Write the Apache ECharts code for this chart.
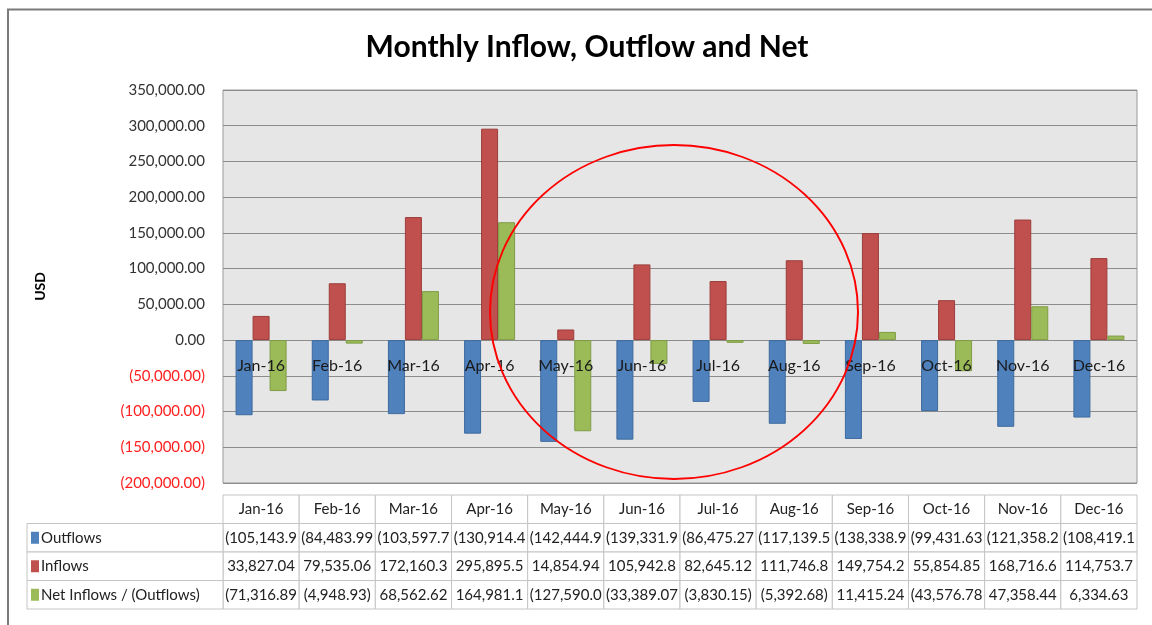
<!DOCTYPE html>
<html>
<head>
<meta charset="utf-8">
<title>Monthly Inflow, Outflow and Net</title>
<script src="https://cdn.jsdelivr.net/npm/echarts@6/dist/echarts.min.js"></script>
<style>
  html, body { margin: 0; padding: 0; background: #fff; }
  #chartBox { width: 1152px; height: 625px; }
</style>
</head>
<body>
<div id="chartBox"></div>
<script>
  // months shown on the axis and in the table header
  var months = ['Jan-16', 'Feb-16', 'Mar-16', 'Apr-16', 'May-16', 'Jun-16',
    'Jul-16', 'Aug-16', 'Sep-16', 'Oct-16', 'Nov-16', 'Dec-16'];
  var seriesNames = ['Outflows', 'Inflows', 'Net Inflows / (Outflows)'];
  var outflows = [-105143.93, -84483.99, -103597.73, -130914.41, -142444.98, -139331.95,
    -86475.27, -117139.51, -138338.98, -99431.63, -121358.20, -108419.12];
  var inflows = [33827.04, 79535.06, 172160.35, 295895.52, 14854.94, 105942.88,
    82645.12, 111746.83, 149754.22, 55854.85, 168716.64, 114753.75];
  var netFlows = [-71316.89, -4948.93, 68562.62, 164981.11, -127590.04, -33389.07,
    -3830.15, -5392.68, 11415.24, -43576.78, 47358.44, 6334.63];
  var yTicks = { min: -200000, max: 350000, step: 50000 };

  var colors = ['#4F81BD', '#C0504D', '#9BBB59'];
  var borders = ['#3d6a9e', '#9c3d3a', '#7f9c45'];
  var FONT = 'Lato, "Open Sans", sans-serif';

  // 105143.9 -> "(105,143.90)"
  function fmt(v) {
    var s = Math.abs(v).toFixed(2).replace(/\B(?=(\d{3})+(?!\d))/g, ',');
    return v < 0 ? '(' + s + ')' : s;
  }

  var tableRows = [months, outflows, inflows, netFlows];
  var cells = [];
  for (var r = 0; r < tableRows.length; r++) {
    for (var c = 0; c < months.length; c++) cells.push([c, r]);
  }

  function renderCell(params, api) {
    var c = api.value(0), r = api.value(1);
    var pt = api.coord([c, r]);
    var sz = api.size([1, 1]);
    var x0 = pt[0] - sz[0] / 2, y0 = pt[1] - sz[1] / 2;
    var txt = r === 0 ? months[c] : fmt(tableRows[r][c]);
    var kids = [{
      type: 'rect',
      shape: { x: x0, y: y0, width: sz[0], height: sz[1] },
      style: { fill: '#fff', stroke: '#c4c4c4', lineWidth: 1 }
    }, {
      type: 'text',
      style: {
        text: txt, x: pt[0], y: pt[1], align: 'center', verticalAlign: 'middle',
        width: sz[0] - 1, overflow: 'truncate', ellipsis: '',
        fill: '#222', font: '15px ' + FONT
      }
    }];
    // legend cell left of the first column
    if (c === 0 && r > 0) {
      var lx = 27;
      kids.push({
        type: 'rect',
        shape: { x: lx, y: y0, width: x0 - lx, height: sz[1] },
        style: { fill: '#fff', stroke: '#c4c4c4', lineWidth: 1 }
      }, {
        type: 'rect',
        shape: { x: lx + 4, y: pt[1] - 6, width: 8, height: 12 },
        style: { fill: colors[r - 1] }
      }, {
        type: 'text',
        style: {
          text: seriesNames[r - 1], x: lx + 14, y: pt[1], align: 'left',
          verticalAlign: 'middle', fill: '#222', font: '15px ' + FONT
        }
      });
    }
    return { type: 'group', children: kids };
  }

  var barSeries = [outflows, inflows, netFlows].map(function (d, i) {
    return {
      name: seriesNames[i],
      type: 'bar',
      barWidth: 17,
      barGap: '0%',
      itemStyle: { color: colors[i], borderColor: borders[i], borderWidth: 1 },
      data: d
    };
  });

  var myChart = echarts.init(document.getElementById('chartBox'));
  myChart.setOption({
    animation: false,
    backgroundColor: '#fff',
    title: {
      text: 'Monthly Inflow, Outflow and Net',
      left: 582, top: 27, textAlign: 'center',
      textStyle: { fontFamily: FONT, fontSize: 30, fontWeight: 'bold', color: '#000' }
    },
    grid: [{
      left: 223, right: 15, top: 90, bottom: 142,
      show: true, backgroundColor: '#E6E6E6', borderColor: '#9a9a9a', borderWidth: 1
    }, {
      left: 223, right: 15, top: 495, height: 114
    }],
    xAxis: [{
      type: 'category',
      data: months,
      z: 10,
      // labels sit just under the zero line, as in the spreadsheet chart
      offset: -143,
      axisLine: { show: false },
      axisTick: { show: false },
      axisLabel: { fontFamily: FONT, fontSize: 16, color: '#1a1a1a', margin: 18 }
    }, {
      type: 'category', gridIndex: 1, data: months, show: false
    }],
    yAxis: [{
      type: 'value',
      min: yTicks.min, max: yTicks.max, interval: yTicks.step,
      name: 'USD',
      nameLocation: 'middle',
      nameGap: 176,
      nameTextStyle: { fontFamily: FONT, fontSize: 14, fontWeight: 'bold', color: '#000' },
      axisLine: { show: false },
      axisTick: { show: false },
      splitLine: { lineStyle: { color: '#8c8c8c', width: 1 } },
      axisLabel: {
        fontFamily: FONT, fontSize: 15, margin: 18,
        color: function (v) { return v < 0 ? '#ff2020' : '#333'; },
        formatter: fmt
      }
    }, {
      type: 'category', gridIndex: 1, inverse: true,
      data: ['head', 'out', 'in', 'net'], show: false
    }],
    series: barSeries.concat([{
      type: 'custom',
      name: 'table',
      xAxisIndex: 1, yAxisIndex: 1,
      renderItem: renderCell,
      data: cells
    }]),
    graphic: [
      // chart frame
      { type: 'line', shape: { x1: 7, y1: 9.5, x2: 1152, y2: 9.5 }, style: { stroke: '#7a7a7a', lineWidth: 2 } },
      { type: 'line', shape: { x1: 8, y1: 9, x2: 8, y2: 625 }, style: { stroke: '#7a7a7a', lineWidth: 2 } },
      // red annotation ring
      {
        type: 'circle', x: 674, y: 312, scaleX: 184 / 167, z: 100,
        shape: { cx: 0, cy: 0, r: 167 },
        style: { fill: 'none', stroke: '#ff0000', lineWidth: 1.8 }
      }
    ]
  });
</script>
</body>
</html>
